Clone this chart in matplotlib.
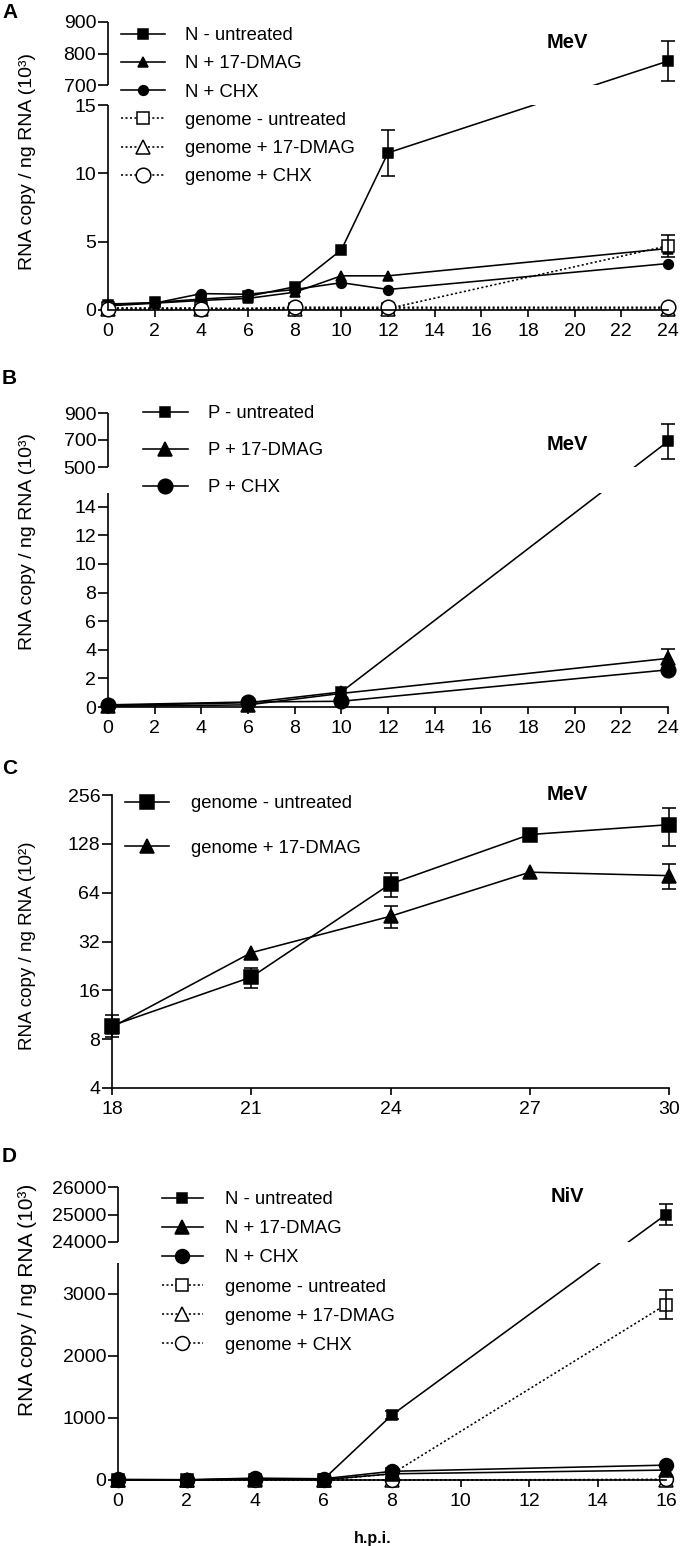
import numpy as np
import matplotlib
matplotlib.use("Agg")
import matplotlib.pyplot as plt
import matplotlib.transforms as mtransforms
from matplotlib.lines import Line2D
from matplotlib.patches import Rectangle
from matplotlib.ticker import NullLocator

plt.rcParams['font.family'] = ['Liberation Sans', 'DejaVu Sans']

W, H = 680, 1546

# ---- A: MeV N mRNA and genome (copies / ng RNA, x10^3)
a_hpi = [0, 2, 4, 6, 8, 10, 12, 24]
a_n_untreated = [0.4, 0.55, 0.8, 1.0, 1.7, 4.4, 11.5, 776]
a_n_untreated_err = [0, 0, 0, 0, 0, 0, 1.7, 63]
a_n_dmag = [0.45, 0.5, 0.7, 0.85, 1.3, 2.5, 2.5, 4.5]
a_n_chx = [0.3, 0.5, 1.2, 1.15, 1.5, 2.0, 1.5, 3.4]
a_g_hpi = [0, 4, 8, 12, 24]
a_g_untreated = [0.15, 0.15, 0.05, 0.1, 4.7]
a_g_untreated_err = [0, 0, 0, 0, 0.8]
a_g_dmag = [0.05, 0.05, 0.05, 0.05, 0.05]
a_g_chx = [0.05, 0.05, 0.2, 0.2, 0.2]
a_yticks = [0, 5, 10, 15, 700, 800, 900]

# ---- B: MeV P mRNA (x10^3)
b_hpi = [0, 6, 10, 24]
b_p_untreated = [0.1, 0.3, 1.05, 690]
b_p_untreated_err = [0, 0, 0, 130]
b_p_dmag = [0.05, 0.15, 0.95, 3.4]
b_p_dmag_err = [0, 0, 0, 0.65]
b_p_chx = [0.15, 0.35, 0.4, 2.6]
b_yticks = [0, 2, 4, 6, 8, 10, 12, 14, 500, 700, 900]

# ---- C: MeV genome, late time points (x10^2)
c_hpi = [18, 21, 24, 27, 30]
c_g_untreated = [9.7, 19.3, 72.5, 146, 168]
c_g_untreated_err = [1.5, 2.7, 12.6, 0, 44]
c_g_dmag = [9.5, 27.3, 45.8, 85.6, 81.5]
c_g_dmag_err = [0, 0, 7.3, 0, 14.5]
c_yticks = [4, 8, 16, 32, 64, 128, 256]

# ---- D: NiV N mRNA and genome (x10^3)
d_hpi = [0, 2, 4, 6, 8, 16]
d_n_untreated = [0, 0, 20, 10, 1050, 25000]
d_n_untreated_err = [0, 0, 0, 0, 60, 380]
d_n_dmag = [0, 0, 10, 5, 100, 160]
d_n_chx = [10, 5, 30, 20, 140, 240]
d_g_untreated = [0, 0, 0, 0, 100, 2830]
d_g_untreated_err = [0, 0, 0, 0, 0, 230]
d_g_dmag = [0, 0, 0, 0, 0, 5]
d_g_chx = [0, 0, 0, 0, 0, 10]
d_yticks = [0, 1000, 2000, 3000, 24000, 25000, 26000]

LW = 1.15
DOT = (0, (1.3, 1.5))
TICK_FS = 14
LEG_FS = 13.3


def px_axes(fig, left, top, right, bottom):
    return fig.add_axes([left / W, 1 - bottom / H, (right - left) / W, (bottom - top) / H])


def fxy(x, y):
    return x / W, 1 - y / H


def style(marker, filled, dotted, ms):
    return dict(color='k', lw=LW, ls=DOT if dotted else '-', marker=marker, ms=ms,
                mfc='k' if filled else 'white', mec='k', mew=1.1)


def draw(ax, x, y, st, err=None, label=None):
    ax.plot(x, y, clip_on=False, label=label, zorder=2, **st)
    if err is not None:
        pts = [(xi, yi, e) for xi, yi, e in zip(x, y, err) if e > 0]
        xe, ye, ee = zip(*pts)
        c = ax.errorbar(xe, ye, yerr=ee, fmt='none', ecolor='k', elinewidth=LW,
                        capsize=5, capthick=LW, zorder=2)
        for art in list(c.lines[1]) + list(c.lines[2]):
            art.set_clip_on(False)


def broken_funcs(lo_top, hi_bot, gap, k):
    def fwd(y):
        y = np.asarray(y, dtype=float)
        mid = lo_top + gap * (y - lo_top) / (hi_bot - lo_top)
        hi = lo_top + gap + (y - hi_bot) * k
        return np.where(y <= lo_top, y, np.where(y >= hi_bot, hi, mid))

    def inv(u):
        u = np.asarray(u, dtype=float)
        mid = lo_top + (u - lo_top) * (hi_bot - lo_top) / gap
        hi = hi_bot + (u - lo_top - gap) / k
        return np.where(u <= lo_top, u, np.where(u >= lo_top + gap, hi, mid))
    return fwd, inv


def make_broken(ax, lo_top, hi_bot, ymax, lo_px, gap_px, hi_px):
    # GraphPad style split y axis: same px scale for the lower part, squeezed upper part
    ppu = lo_px / lo_top
    gap = gap_px / ppu
    k = (hi_px / ppu) / (ymax - hi_bot)
    ax.set_yscale('function', functions=broken_funcs(lo_top, hi_bot, gap, k))
    ax.spines['left'].set_visible(False)
    tr = mtransforms.blended_transform_factory(ax.transAxes, ax.transData)
    for seg in ([0, lo_top], [hi_bot, ymax]):
        ax.add_line(Line2D([0, 0], seg, transform=tr, color='k', lw=1.2,
                           clip_on=False, zorder=4, solid_capstyle='butt'))
    ax.add_patch(Rectangle((0.004, lo_top), 1.2, hi_bot - lo_top, transform=tr,
                           facecolor='white', lw=0, zorder=3, clip_on=False))
    ax.set_ylim(0, ymax)


def finish(ax, xticks, yticks, xlim):
    ax.spines['top'].set_visible(False)
    ax.spines['right'].set_visible(False)
    for s in ('left', 'bottom'):
        ax.spines[s].set_linewidth(1.2)
    ax.set_xlim(*xlim)
    ax.set_xticks(xticks)
    ax.set_yticks(yticks)
    ax.set_yticklabels([str(t) for t in yticks])
    ax.yaxis.set_minor_locator(NullLocator())
    ax.tick_params(axis='y', length=7, width=1.2, pad=1.5, labelsize=TICK_FS)
    ax.tick_params(axis='x', length=5, width=1.2, pad=4.5, labelsize=TICK_FS)


def legend(ax, fig, x, y, hl, tp, ls, order=None):
    h, l = ax.get_legend_handles_labels()
    if order is not None:
        h = [h[i] for i in order]
        l = [l[i] for i in order]
    leg = ax.legend(h, l, loc='upper left', bbox_to_anchor=fxy(x, y), bbox_transform=fig.transFigure,
                    frameon=False, fontsize=LEG_FS, handlelength=hl, handletextpad=tp,
                    labelspacing=ls, borderpad=0, borderaxespad=0, numpoints=1)
    leg.set_zorder(6)


fig = plt.figure(figsize=(W / 100, H / 100), dpi=100)

# ---------------- A ----------------
ax = px_axes(fig, 108, 22, 668, 310)
draw(ax, a_hpi, a_n_untreated, style('s', True, False, 6.5), a_n_untreated_err, 'N - untreated')
draw(ax, a_hpi, a_n_dmag, style('^', True, False, 7.5), label='N + 17-DMAG')
draw(ax, a_hpi, a_n_chx, style('o', True, False, 7), label='N + CHX')
draw(ax, a_g_hpi, a_g_untreated, style('s', False, True, 8.5), a_g_untreated_err, 'genome - untreated')
draw(ax, a_g_hpi, a_g_dmag, style('^', False, True, 10), label='genome + 17-DMAG')
draw(ax, a_g_hpi, a_g_chx, style('o', False, True, 10.5), label='genome + CHX')
make_broken(ax, 15, 700, 900, 205, 20, 63)
finish(ax, range(0, 25, 2), a_yticks, (0, 24))
legend(ax, fig, 121, 27, 2.38, 1.08, 0.61)

# ---------------- B ----------------
ax = px_axes(fig, 108, 413, 668, 707)
draw(ax, b_hpi, b_p_untreated, style('s', True, False, 7.5), b_p_untreated_err, 'P - untreated')
draw(ax, b_hpi, b_p_dmag, style('^', True, False, 10.5), b_p_dmag_err, 'P + 17-DMAG')
draw(ax, b_hpi, b_p_chx, style('o', True, False, 10.5), label='P + CHX')
make_broken(ax, 15, 500, 900, 214.5, 25.5, 54)
finish(ax, range(0, 25, 2), b_yticks, (0, 24))
legend(ax, fig, 143, 405, 2.43, 1.08, 1.09)

# ---------------- C ----------------
ax = px_axes(fig, 112, 795, 669, 1088)
draw(ax, c_hpi, c_g_untreated, style('s', True, False, 10.5), c_g_untreated_err, 'genome - untreated')
draw(ax, c_hpi, c_g_dmag, style('^', True, False, 10), c_g_dmag_err, 'genome + 17-DMAG')
ax.set_yscale('log', base=2)
ax.set_ylim(4, 256)
finish(ax, c_hpi, c_yticks, (18, 30))
legend(ax, fig, 125, 795, 2.38, 1.19, 1.5)

# ---------------- D ----------------
ax = px_axes(fig, 118, 1187, 666, 1480)
draw(ax, d_hpi, d_g_untreated, style('s', False, True, 8), d_g_untreated_err, 'genome - untreated')
draw(ax, d_hpi, d_g_dmag, style('^', False, True, 10), label='genome + 17-DMAG')
draw(ax, d_hpi, d_g_chx, style('o', False, True, 10), label='genome + CHX')
draw(ax, d_hpi, d_n_untreated, style('s', True, False, 7), d_n_untreated_err, 'N - untreated')
draw(ax, d_hpi, d_n_dmag, style('^', True, False, 10), label='N + 17-DMAG')
draw(ax, d_hpi, d_n_chx, style('o', True, False, 10), label='N + CHX')
make_broken(ax, 3500, 24000, 26000, 217, 21, 55)
finish(ax, range(0, 17, 2), d_yticks, (0, 16))
legend(ax, fig, 162, 1191, 2.2, 1.19, 0.66, order=[3, 4, 5, 0, 1, 2])

# ---------------- labels ----------------
for letter, y in (('A', 12), ('B', 378), ('C', 769), ('D', 1157)):
    fig.text(*fxy(2, y), letter, fontsize=15, fontweight='bold', ha='left', va='center')
for name, y in (('MeV', 42), ('MeV', 445), ('MeV', 795), ('NiV', 1197)):
    fig.text(*fxy(567, y), name, fontsize=14.5, fontweight='bold', ha='center', va='center')
for txt, y, fs in (('RNA copy / ng RNA (10³)', 161, 14), ('RNA copy / ng RNA (10³)', 542, 14),
                   ('RNA copy / ng RNA (10²)', 946, 13.5), ('RNA copy / ng RNA (10³)', 1300, 15)):
    fig.text(*fxy(28, y), txt, fontsize=fs, rotation=90, ha='center', va='center')
fig.text(*fxy(373, 1538), 'h.p.i.', fontsize=11.5, fontweight='bold', ha='center', va='center')

fig.savefig('out.png', dpi=100)
